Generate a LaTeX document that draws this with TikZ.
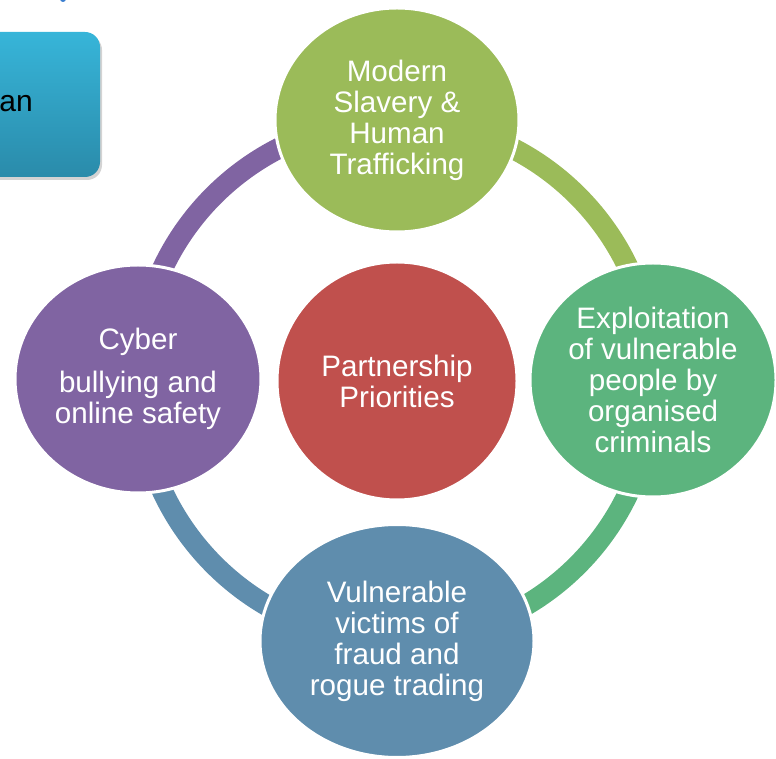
\documentclass[tikz,border=0pt]{standalone}
\usepackage{fontspec}
\setmainfont{Liberation Sans}
\usetikzlibrary{shapes.geometric,backgrounds,shadows}
\definecolor{cTop}{HTML}{9BBB59}
\definecolor{cRight}{HTML}{5CB47E}
\definecolor{cBottom}{HTML}{5F8DAD}
\definecolor{cLeft}{HTML}{8064A2}
\definecolor{cCenter}{HTML}{C0504D}
\definecolor{boxTop}{HTML}{37B5D9}
\definecolor{boxBot}{HTML}{2A8BAA}
\definecolor{dotBlue}{HTML}{3C7FD0}
\begin{document}
\begin{tikzpicture}[x=1pt,y=1pt,
  bubble/.style={ellipse, draw=white, line width=3pt, inner sep=0pt, text=white,
    align=center, font=\fontsize{29.6}{31}\selectfont},
  band/.style={line width=21pt},
  sidebox/.style={rounded corners=15pt, top color=boxTop, bottom color=boxBot,
    draw=none, minimum width=120pt, minimum height=145pt, inner sep=0pt,
    drop shadow={opacity=0.35, shadow xshift=2pt, shadow yshift=-3pt}}]
\useasboundingbox (0,0) rectangle (776,758);

% partial box at top left
\node[sidebox] (box) at (40,653.5) {};
\node[anchor=base east, inner sep=0pt, font=\fontsize{30}{30}\selectfont] (an) at (33,646) {an};
\node[circle, fill=dotBlue, minimum size=6pt, inner sep=0pt] (dot) at (63,759) {};

% circles
\node[bubble, fill=cTop, minimum width=244pt, minimum height=224pt] (top) at (397,638)
  {Modern\\Slavery \&\\Human\\Trafficking};
\node[bubble, fill=cRight, minimum width=246pt, minimum height=234pt] (right) at (653,378)
  {Exploitation\\of vulnerable\\people by\\organised\\criminals};
\node[bubble, fill=cBottom, minimum width=274pt, minimum height=233pt] (bottom) at (397,117)
  {Vulnerable\\victims of\\fraud and\\rogue trading};
\node[bubble, fill=cLeft, minimum width=246pt, minimum height=228pt] (left) at (138,379)
  {Cyber\\[12pt]bullying and\\online safety};
\node[bubble, fill=cCenter, minimum width=240pt, minimum height=238pt] (center) at (397,377)
  {Partnership\\Priorities};

% ring segments
\begin{scope}[on background layer]
\draw[band, cTop] (top.center) to[bend left=45] (right.center);
\draw[band, cRight] (right.center) to[bend left=45] (bottom.center);
\draw[band, cBottom] (bottom.center) to[bend left=45] (left.center);
\draw[band, cLeft] (left.center) to[bend left=45] (top.center);
\end{scope}
\end{tikzpicture}
\end{document}
